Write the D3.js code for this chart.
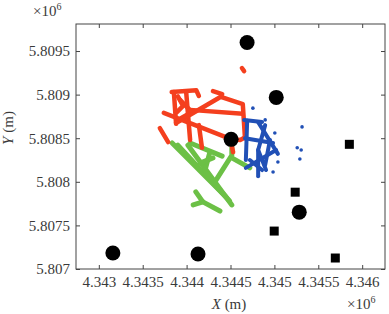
<!DOCTYPE html>
<html>
<head>
<meta charset="utf-8">
<script src="https://cdn.jsdelivr.net/npm/d3@7"></script>
<style>
  body { margin: 0; background: #fff; }
  text { font-family: "Liberation Serif", "Times New Roman", serif; }
</style>
</head>
<body>
<div id="chart"></div>
<script>
// tick labels
var xTicks = [4343000, 4343500, 4344000, 4344500, 4345000, 4345500, 4346000];
var yTicks = [5807000, 5807500, 5808000, 5808500, 5809000, 5809500];

// trajectories (m)
var redPaths = [
  [[4343830, 5809030], [4344110, 5809050], [4344140, 5808985]],
  [[4343855, 5809030], [4343880, 5808665]],
  [[4343995, 5809030], [4344040, 5808480]],
  [[4343925, 5808940], [4344060, 5808800], [4343935, 5808730]],
  [[4343900, 5808980], [4343960, 5808870], [4343890, 5808800]],
  [[4343880, 5808675], [4344390, 5808975], [4344640, 5808890], [4344665, 5808500]],
  [[4343740, 5808790], [4344505, 5808490]],
  [[4344040, 5808825], [4344640, 5808780]],
  [[4343695, 5808615], [4343790, 5808455]],
  [[4344140, 5808650], [4344175, 5808390]],
  [[4344505, 5808490], [4344610, 5808480], [4344675, 5808515]],
  [[4344300, 5809040], [4344405, 5809005]],
  [[4344630, 5809305], [4344655, 5809270]],
  [[4344515, 5808410], [4344530, 5808340]]
];
var bluePaths = [
  [[4344655, 5808710], [4344860, 5808685]],
  [[4344690, 5808700], [4344675, 5808250]],
  [[4344815, 5808685], [4345040, 5808320]],
  [[4344665, 5808500], [4344985, 5808445]],
  [[4344675, 5808160], [4345020, 5808365]],
  [[4344815, 5808365], [4344815, 5808065]],
  [[4344720, 5808250], [4344860, 5808135]],
  [[4344895, 5808650], [4344815, 5808365], [4344905, 5808135]],
  [[4344950, 5808480], [4344895, 5808195]]
];
var blueDots = [
  [4344755, 5808845], [4344895, 5808710], [4345005, 5808560], [4345040, 5808227],
  [4344985, 5808112], [4345315, 5808630], [4345260, 5808390], [4345305, 5808365],
  [4345290, 5808262]
];
var greenPaths = [
  [[4343835, 5808445], [4344450, 5807825]],
  [[4343900, 5808420], [4344490, 5807780]],
  [[4344015, 5808420], [4344515, 5807735]],
  [[4344040, 5808445], [4344405, 5808295]],
  [[4344265, 5808340], [4344210, 5808135]],
  [[4344155, 5808215], [4344300, 5808275]],
  [[4344335, 5808020], [4344515, 5808305], [4344515, 5808390]],
  [[4344515, 5808275], [4344720, 5808160]],
  [[4344105, 5807885], [4344185, 5807770], [4344380, 5807665]],
  [[4344185, 5807770], [4344075, 5807735]]
];

// anchors
var circles = [
  [4344689, 5809597], [4345021, 5808968], [4344507, 5808487],
  [4345283, 5807652], [4343160, 5807183], [4344130, 5807172]
];
var squares = [
  [4345854, 5808430], [4345237, 5807881], [4344998, 5807435], [4345694, 5807126]
];

var width = 389, height = 314;
var margin = {top: 24, right: 4, bottom: 45, left: 76};
var w = width - margin.left - margin.right;
var h = height - margin.top - margin.bottom;

var svg = d3.select("#chart").append("svg")
  .attr("width", width)
  .attr("height", height);

var x = d3.scaleLinear().domain([4342740, 4346260]).range([0, w]);
var y = d3.scaleLinear().domain([5807000, 5809810]).range([h, 0]);

var g = svg.append("g").attr("transform", "translate(" + margin.left + "," + margin.top + ")");

g.append("clipPath").attr("id", "clip")
  .append("rect").attr("width", w).attr("height", h);

var fmt = d3.format(".5~f");
var axisColor = "#444";

function styleAxis(sel) {
  sel.select(".domain").remove();
  sel.selectAll(".tick line").attr("stroke", axisColor);
  sel.selectAll(".tick text")
    .attr("fill", "#3a3a3a")
    .style("font-size", "15px");
}

g.append("g")
  .attr("transform", "translate(0," + h + ")")
  .call(d3.axisBottom(x).tickValues(xTicks).tickSize(-4).tickPadding(7).tickFormat(function (d) { return fmt(d / 1e6); }))
  .call(styleAxis);
g.append("g")
  .call(d3.axisTop(x).tickValues(xTicks).tickSize(-4).tickFormat(""))
  .call(styleAxis);
g.append("g")
  .call(d3.axisLeft(y).tickValues(yTicks).tickSize(-4).tickPadding(6).tickFormat(function (d) { return fmt(d / 1e6); }))
  .call(styleAxis);
g.append("g")
  .attr("transform", "translate(" + w + ",0)")
  .call(d3.axisRight(y).tickValues(yTicks).tickSize(-4).tickFormat(""))
  .call(styleAxis);

g.append("rect")
  .attr("width", w).attr("height", h)
  .attr("fill", "none")
  .attr("stroke", axisColor)
  .attr("stroke-width", 1);

var plot = g.append("g").attr("clip-path", "url(#clip)");

var line = d3.line()
  .x(function (d) { return x(d[0]); })
  .y(function (d) { return y(d[1]); });

function drawPaths(data, color, sw) {
  plot.append("g").selectAll("path")
    .data(data)
    .enter().append("path")
    .attr("d", line)
    .attr("fill", "none")
    .attr("stroke", color)
    .attr("stroke-width", sw)
    .attr("stroke-linecap", "round")
    .attr("stroke-linejoin", "round");
}

drawPaths(greenPaths, "#6cc046", 5);
drawPaths(redPaths, "#f43f1e", 4.5);
drawPaths(bluePaths, "#2150b6", 4);

plot.append("g").selectAll("circle")
  .data(blueDots)
  .enter().append("circle")
  .attr("cx", function (d) { return x(d[0]); })
  .attr("cy", function (d) { return y(d[1]); })
  .attr("r", 1.8)
  .attr("fill", "#2150b6");

plot.append("g").selectAll("circle")
  .data(circles)
  .enter().append("circle")
  .attr("cx", function (d) { return x(d[0]); })
  .attr("cy", function (d) { return y(d[1]); })
  .attr("r", 7.5)
  .attr("fill", "#000");

var sq = 9;
plot.append("g").selectAll("rect")
  .data(squares)
  .enter().append("rect")
  .attr("x", function (d) { return x(d[0]) - sq / 2; })
  .attr("y", function (d) { return y(d[1]) - sq / 2; })
  .attr("width", sq)
  .attr("height", sq)
  .attr("fill", "#000");

// labels
var xl = svg.append("text")
  .attr("x", 229).attr("y", 309)
  .attr("text-anchor", "middle")
  .attr("fill", "#3a3a3a")
  .style("font-size", "15px");
xl.append("tspan").style("font-style", "italic").text("X");
xl.append("tspan").text(" (m)");

var yl = svg.append("text")
  .attr("transform", "translate(13,128) rotate(-90)")
  .attr("text-anchor", "middle")
  .attr("fill", "#3a3a3a")
  .style("font-size", "15px");
yl.append("tspan").style("font-style", "italic").text("Y");
yl.append("tspan").text(" (m)");

function expLabel(px, py) {
  var t = svg.append("text")
    .attr("x", px).attr("y", py)
    .attr("fill", "#3a3a3a")
    .style("font-size", "15px");
  t.append("tspan").text("\u00d710");
  t.append("tspan").attr("dy", -6).style("font-size", "10px").text("6");
}
expLabel(33, 16);
expLabel(347, 309);
</script>
</body>
</html>
